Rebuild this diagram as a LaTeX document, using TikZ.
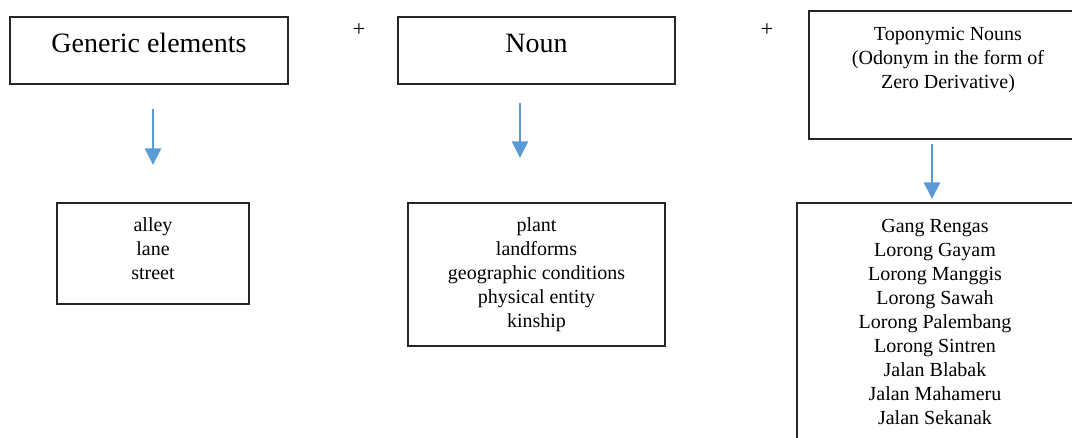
\documentclass[tikz,border=0pt]{standalone}
\usepackage{fontspec}
\setmainfont{Liberation Serif}
\usetikzlibrary{arrows.meta}
\definecolor{arrowblue}{HTML}{5B9BD5}
\def\pxu{0.75pt}
\tikzset{
  box/.style={draw=black!85, line width=0.9pt, rectangle, inner sep=0pt},
  headtext/.style={font=\fontsize{21}{25}\selectfont, inner sep=0pt, anchor=base},
  bodytext/.style={font=\fontsize{15}{18}\selectfont, inner sep=0pt, align=center, anchor=north},
  plus/.style={font=\fontsize{17}{20}\selectfont, inner sep=0pt},
  flow/.style={draw=arrowblue, line width=2pt, -{Triangle[width=12pt,length=12.5pt]}},
}
\begin{document}
\begin{tikzpicture}[x=0.75pt, y=-0.75pt]
  \useasboundingbox (0,0) rectangle (1072,437);
  \clip (0,0) rectangle (1072,437);

  % Top row: generic element + noun + toponymic noun
  \node [box, minimum width=278*\pxu, minimum height=67*\pxu] (gen) at (149,50.5) {};
  \node [headtext] (gentext) at (149,52) {Generic elements};

  \node [plus] (plusa) at (359,30) {+};

  \node [box, minimum width=277*\pxu, minimum height=67*\pxu] (noun) at (536.5,50.5) {};
  \node [headtext] (nountext) at (536.5,52) {Noun};

  \node [plus] (plusb) at (767,30) {+};

  \node [box, minimum width=282*\pxu, minimum height=128*\pxu] (topo) at (950,75) {};
  \node [bodytext] (topotext) at (948,26.5) {Toponymic Nouns\\(Odonym in the form of\\Zero Derivative)};

  % Bottom row: the lists
  \node [box, minimum width=192*\pxu, minimum height=101*\pxu] (genlist) at (153,253.5) {};
  \node [bodytext] (genlisttext) at (153,217.5) {alley\\lane\\street};

  \node [box, minimum width=257*\pxu, minimum height=143*\pxu] (nounlist) at (536.5,274.5) {};
  \node [bodytext] (nounlisttext) at (536.5,217.5) {plant\\landforms\\geographic conditions\\physical entity\\kinship};

  \node [box, minimum width=276*\pxu, minimum height=242*\pxu] (topolist) at (935,324) {};
  \node [bodytext] (topolisttext) at (935,218.5) {Gang Rengas\\Lorong Gayam\\Lorong Manggis\\Lorong Sawah\\Lorong Palembang\\Lorong Sintren\\Jalan Blabak\\Jalan Mahameru\\Jalan Sekanak};

  % Arrows
  \coordinate (gena) at (153,109);
  \coordinate (genb) at (153,165);
  \coordinate (nouna) at (520,103);
  \coordinate (nounb) at (520,158);
  \coordinate (topoa) at (932,144);
  \coordinate (topob) at (932,199);
  \draw [flow] (gena) -- (genb);
  \draw [flow] (nouna) -- (nounb);
  \draw [flow] (topoa) -- (topob);
\end{tikzpicture}
\end{document}
